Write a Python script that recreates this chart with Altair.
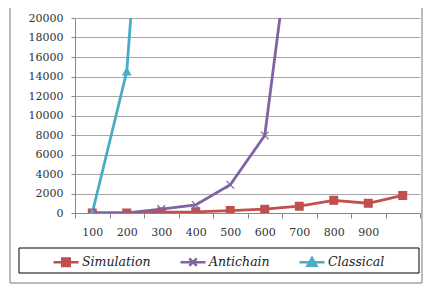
import altair as alt
import pandas as pd

categories = [100, 200, 300, 400, 500, 600, 700, 800, 900, 1000]
series_names = ["Simulation", "Antichain", "Classical"]
simulation = [0, 0, 100, 120, 250, 400, 700, 1300, 1000, 1800]
antichain = [0, 0, 400, 820, 2900, 7950, 35500]
classical = [0, 14500, 62000]
colors = ["#C0504D", "#8064A2", "#4BACC6"]
marker_shapes = ["square", "M-1,-1L1,1M-1,1L1,-1", "triangle-up"]
legend_shapes = [
    "M-1,0L1,0M-0.3,-0.3L0.3,-0.3L0.3,0.3L-0.3,0.3Z",
    "M-1,0L1,0M-0.3,-0.3L0.3,0.3M-0.3,0.3L0.3,-0.3",
    "M-1,0L1,0M-0.36,0.28L0,-0.34L0.36,0.28Z",
]
y_ticks = list(range(0, 20001, 2000))

rows = []
for name, vals in zip(series_names, [simulation, antichain, classical]):
    for c, v in zip(categories, vals):
        rows.append({"n": c, "value": v, "series": name})
df = pd.DataFrame(rows)

FONT = "DejaVu Serif"

x_enc = alt.X(
    "n:O",
    scale=alt.Scale(type="band", domain=categories, paddingInner=0, paddingOuter=0),
    axis=alt.Axis(
        title=None, labelAngle=0, tickBand="extent", grid=False, tickSize=5,
        labelPadding=8, labelExpr="datum.value == 1000 ? '' : datum.label",
    ),
)
y_enc = alt.Y(
    "value:Q",
    scale=alt.Scale(domain=[0, 20000], nice=False),
    axis=alt.Axis(title=None, values=y_ticks, format="d", grid=True, tickSize=4, labelPadding=8),
)

base = alt.Chart(df)

lines = base.mark_line(strokeWidth=2.8, clip=True).encode(
    x=x_enc, y=y_enc,
    color=alt.Color("series:N", scale=alt.Scale(domain=series_names, range=colors), legend=None),
)

points = base.mark_point(filled=True, opacity=1, size=60, strokeWidth=1.2, clip=True).encode(
    x=x_enc, y=y_enc,
    fill=alt.Fill("series:N", scale=alt.Scale(domain=series_names, range=colors), legend=None),
    stroke=alt.Stroke("series:N", scale=alt.Scale(domain=series_names, range=colors), legend=None),
    shape=alt.Shape("series:N", scale=alt.Scale(domain=series_names, range=marker_shapes), legend=None),
)

leg = alt.Legend(
    title=None, orient="none", legendX=-23, legendY=230, direction="horizontal",
    columns=3, columnPadding=24, symbolSize=625, symbolStrokeWidth=2.5, symbolOpacity=1,
    labelFont=FONT, labelFontStyle="italic", labelFontSize=12.5, labelColor="#222",
    labelOffset=2, padding=0,
)

legend_layer = base.mark_point(filled=True, opacity=1).encode(
    x=x_enc, y=y_enc,
    fill=alt.Fill("series:N", scale=alt.Scale(domain=series_names, range=colors), legend=leg),
    stroke=alt.Stroke("series:N", scale=alt.Scale(domain=series_names, range=colors), legend=leg),
    shape=alt.Shape("series:N", scale=alt.Scale(domain=series_names, range=legend_shapes), legend=leg),
).transform_filter("false")

one = pd.DataFrame({"k": [0]})
frame_left = alt.Chart(one).mark_rule(color="#a6a6a6", strokeWidth=1.5).encode(
    x=alt.value(-65), y=alt.value(-20), y2=alt.value(265))
frame_right = alt.Chart(one).mark_rule(color="#a6a6a6", strokeWidth=1.5).encode(
    x=alt.value(347), y=alt.value(-20), y2=alt.value(265))
frame_bottom = alt.Chart(one).mark_rule(color="#a6a6a6", strokeWidth=1.5).encode(
    x=alt.value(-65), x2=alt.value(347), y=alt.value(265))
legend_box = alt.Chart(one).mark_rect(filled=False, stroke="black", strokeWidth=1, fillOpacity=0).encode(
    x=alt.value(-56), x2=alt.value(344), y=alt.value(230), y2=alt.value(255))

chart = alt.layer(
    frame_left, frame_right, frame_bottom, legend_box, lines, points, legend_layer
).resolve_scale(
    fill="independent", stroke="independent", shape="independent"
).properties(
    width=345, height=195,
    autosize=alt.AutoSizeParams(type="none"),
    padding={"left": 67, "top": 10, "right": 3, "bottom": 71},
).configure_view(stroke=None).configure_axis(
    labelFont=FONT, labelFontSize=11, labelColor="#333",
    domainColor="#888", tickColor="#888", gridColor="#a6a6a6",
)

chart.save("out.html", embed_options={"renderer": "svg", "actions": False})
